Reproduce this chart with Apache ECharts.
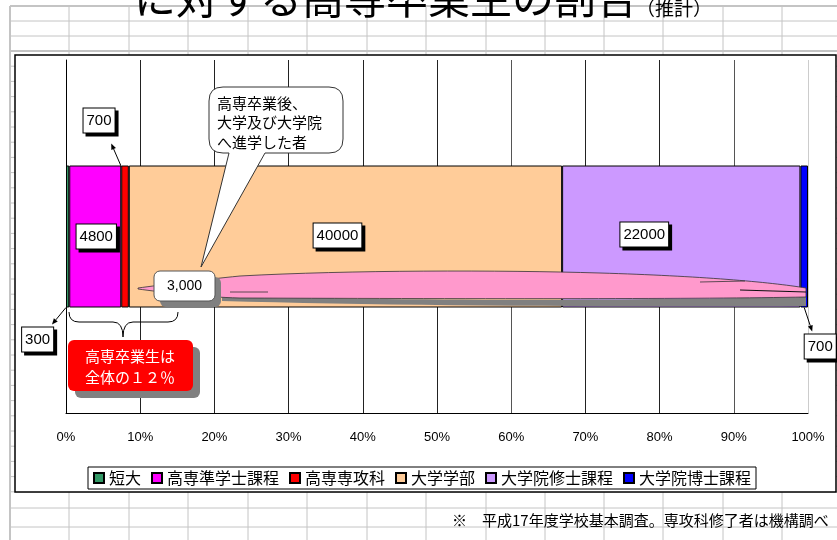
<!DOCTYPE html>
<html>
<head>
<meta charset="utf-8">
<title>高専卒業生の割合</title>
<script src="https://cdn.jsdelivr.net/npm/echarts@6/dist/echarts.min.js"></script>
<style>
html, body { margin: 0; padding: 0; background: #fff; }
#main { width: 837px; height: 540px; }
</style>
</head>
<body>
<div id="main"></div>
<script>
// データ
var category = ['卒業者'];
var seriesNames = ['短大', '高専準学士課程', '高専専攻科', '大学学部', '大学院修士課程', '大学院博士課程'];
var seriesValues = [300, 4800, 700, 40000, 22000, 700];
var tickLabels = ['0%', '10%', '20%', '30%', '40%', '50%', '60%', '70%', '80%', '90%', '100%'];

var colors = ['#339966', '#ff00ff', '#ff0000', '#ffcc99', '#cc99ff', '#0000ff'];
var labelOffsets = [[-30, 103], [1, 0], [-26, -116], [-8, -1], [-37, -2], [16, 110]];

var JP = '"Noto Sans CJK JP", sans-serif';
var NUM = '"Liberation Sans", "Noto Sans CJK JP", sans-serif';

var total = seriesValues.reduce(function (a, b) { return a + b; }, 0);
var pcts = seriesValues.map(function (v) { return v / total * 100; });

var series = seriesNames.map(function (name, i) {
    return {
        name: name,
        type: 'bar',
        stack: 'all',
        barWidth: 142,
        data: [pcts[i]],
        itemStyle: { color: colors[i], borderColor: '#000', borderWidth: 1 },
        emphasis: { disabled: true },
        label: {
            show: true,
            position: 'inside',
            offset: labelOffsets[i],
            formatter: String(seriesValues[i]),
            color: '#000',
            fontSize: 15,
            fontFamily: NUM,
            backgroundColor: '#fff',
            borderColor: '#000',
            borderWidth: 1,
            padding: [5, 3, 4, 3],
            shadowColor: '#000',
            shadowOffsetX: 3,
            shadowOffsetY: 3,
            shadowBlur: 0
        }
    };
});

var option = {
    animation: false,
    grid: { left: 66, right: 29, top: 60, bottom: 127 },
    legend: {
        data: seriesNames,
        icon: 'rect',
        left: 88,
        top: 467,
        itemWidth: 10,
        itemHeight: 10,
        itemGap: 10,
        padding: [3, 5],
        borderColor: '#000',
        borderWidth: 1,
        backgroundColor: '#fff',
        textStyle: { fontSize: 16, color: '#000', fontFamily: JP }
    },
    xAxis: {
        type: 'value',
        min: 0,
        max: 100,
        interval: 10,
        axisLine: { show: true, lineStyle: { color: '#000', width: 1 } },
        axisTick: { show: false },
        axisLabel: {
            margin: 18,
            fontSize: 13,
            color: '#000',
            fontFamily: NUM,
            formatter: function (v) { return tickLabels[Math.round(v / 10)]; }
        },
        splitLine: {
            show: true,
            lineStyle: { color: ['#000', '#222', '#222', '#222', '#222', '#222', '#555', '#222', '#222', '#555', '#ccc'], width: 1 }
        }
    },
    yAxis: {
        type: 'category',
        data: category,
        axisLine: { show: true, lineStyle: { color: '#000' } },
        axisTick: { show: false },
        axisLabel: { show: false }
    },
    series: series
};

var myChart = echarts.init(document.getElementById('main'));
myChart.setOption(option);

// 自由形状（吹き出し・リボン・中括弧）
function regPath(name, d) {
    echarts.graphic.registerShape(name, echarts.graphic.extendPath(d, {}));
}
regPath('bubble', 'M223 87 L329 87 Q343 87 343 101 L343 139 Q343 153 329 153 L265 153 L201 267 L229 153 L223 153 Q209 153 209 139 L209 101 Q209 87 223 87 Z');
regPath('ribbonShadow', 'M222 295 C400 302 650 300 806 297 L806 306 C650 307 400 306 222 301 Z');
regPath('ribbon', 'M138 288 C160 285 200 280 240 276 C350 270 500 270 600 273 C700 276 770 282 806 288 L806 297 C700 299 500 299 240 298 C200 297 160 292 138 289 Z');
regPath('brace', 'M69 312 Q69 322 79 322 L113 322 Q123 322 123 337 Q123 322 133 322 L168 322 Q178 322 178 312');

// 背景（表計算シートの罫線）とタイトル・注記
var colX = [10, 69, 129, 188, 248, 307, 367, 426, 486, 545, 604, 663, 723, 782];
var rowTop = [6, 21, 36, 51];
var rowBottom = [508, 527];
var els = [];
colX.forEach(function (x, i) {
    els.push({ type: 'line', z: -5, shape: { x1: x, y1: 6, x2: x, y2: 540 },
        style: { stroke: '#c4c4c4', lineWidth: i === 0 ? 2 : 1 } });
});
var rows = rowTop.slice();
for (var y = 66.2; y < 492; y += 15.2) rows.push(y);
rows = rows.concat(rowBottom);
rows.forEach(function (y, i) {
    els.push({ type: 'line', z: -5, shape: { x1: 10, y1: y, x2: 837, y2: y },
        style: { stroke: '#c4c4c4', lineWidth: (i === 0 || i === 3) ? 2 : 1 } });
});
els.push({ type: 'rect', z: -4, shape: { x: 15, y: 55, width: 821, height: 437 },
    style: { fill: '#fff', stroke: '#000', lineWidth: 1.5 } });
els.push({ type: 'text', z: 10, x: 134, y: -2,
    style: { text: 'に対する高専卒業生の割合', font: '42px ' + JP, fill: '#000', textVerticalAlign: 'middle' } });
els.push({ type: 'text', z: 10, x: 636, y: 9,
    style: { text: '（推計）', font: '19px ' + JP, fill: '#000', textVerticalAlign: 'middle' } });
els.push({ type: 'text', z: 10, x: 452, y: 520,
    style: { text: '※　平成17年度学校基本調査。専攻科修了者は機構調べ', font: '15px ' + JP, fill: '#000', textVerticalAlign: 'middle' } });

// 注記（データ位置から計算）
var cum = [];
pcts.reduce(function (acc, p, i) { cum[i] = acc + p; return cum[i]; }, 0);
function xAt(p) { return myChart.convertToPixel({ xAxisIndex: 0 }, p); }
var yc = myChart.convertToPixel({ yAxisIndex: 0 }, category[0]);
var barTop = yc - 71, barBottom = yc + 71;

function arrow(x1, y1, x2, y2) {
    var dx = x2 - x1, dy = y2 - y1, len = Math.sqrt(dx * dx + dy * dy);
    var ux = dx / len, uy = dy / len, s = 6, w = 2.5;
    var bx = x2 - ux * s, by = y2 - uy * s;
    els.push({ type: 'line', z: 60, shape: { x1: x1, y1: y1, x2: bx, y2: by }, style: { stroke: '#000', lineWidth: 1 } });
    els.push({ type: 'polygon', z: 60, shape: { points: [[x2, y2], [bx - uy * w, by + ux * w], [bx + uy * w, by - ux * w]] },
        style: { fill: '#000' } });
}
arrow(xAt(cum[1]), barTop + 1, xAt(cum[1]) - 10, barTop - 22);
arrow(xAt(0), barBottom, xAt(0) - 14, barBottom + 17);
arrow(xAt((cum[4] + cum[5]) / 2), barBottom, xAt((cum[4] + cum[5]) / 2) + 8, barBottom + 24);

// 吹き出し
els.push({ type: 'bubble', z: 60, style: { fill: '#fff', stroke: '#333', lineWidth: 1 } });
['高専卒業後、', '大学及び大学院', 'へ進学した者'].forEach(function (t, i) {
    els.push({ type: 'text', z: 61, x: 217, y: 103 + i * 19.5,
        style: { text: t, font: '15px ' + JP, fill: '#000', textVerticalAlign: 'middle' } });
});

// リボン
els.push({ type: 'ribbonShadow', z: 55, style: { fill: '#808080' } });
els.push({ type: 'ribbon', z: 56, style: { fill: '#ff99cc', stroke: '#333', lineWidth: 0.8 } });
els.push({ type: 'line', z: 57, shape: { x1: 230, y1: 292, x2: 268, y2: 292 }, style: { stroke: '#333', lineWidth: 0.8 } });
els.push({ type: 'line', z: 57, shape: { x1: 700, y1: 282, x2: 745, y2: 281 }, style: { stroke: '#333', lineWidth: 0.8 } });
els.push({ type: 'line', z: 57, shape: { x1: 740, y1: 290, x2: 806, y2: 292 }, style: { stroke: '#111', lineWidth: 1.2 } });

// 3,000
els.push({ type: 'rect', z: 58, shape: { x: 160, y: 277, width: 61, height: 30, r: 6 }, style: { fill: '#808080' } });
els.push({ type: 'rect', z: 59, shape: { x: 154, y: 271, width: 61, height: 30, r: 6 },
    style: { fill: '#fff', stroke: '#555', lineWidth: 1 } });
els.push({ type: 'text', z: 60, x: 184.5, y: 286,
    style: { text: '3,000', font: '14px ' + NUM, fill: '#000', textAlign: 'center', textVerticalAlign: 'middle' } });

// 中括弧
els.push({ type: 'brace', z: 60, style: { fill: 'none', stroke: '#000', lineWidth: 1 } });

// 赤いボックス
els.push({ type: 'rect', z: 58, shape: { x: 75, y: 347, width: 125, height: 51, r: 6 }, style: { fill: '#808080' } });
els.push({ type: 'rect', z: 59, shape: { x: 68, y: 340, width: 125, height: 51, r: 6 }, style: { fill: '#ff0000' } });
['高専卒業生は', '全体の１２％'].forEach(function (t, i) {
    els.push({ type: 'text', z: 60, x: 130, y: 356 + i * 21,
        style: { text: t, font: '15px ' + JP, fill: '#fff', textAlign: 'center', textVerticalAlign: 'middle' } });
});

myChart.setOption({ graphic: { elements: els } });
</script>
</body>
</html>
